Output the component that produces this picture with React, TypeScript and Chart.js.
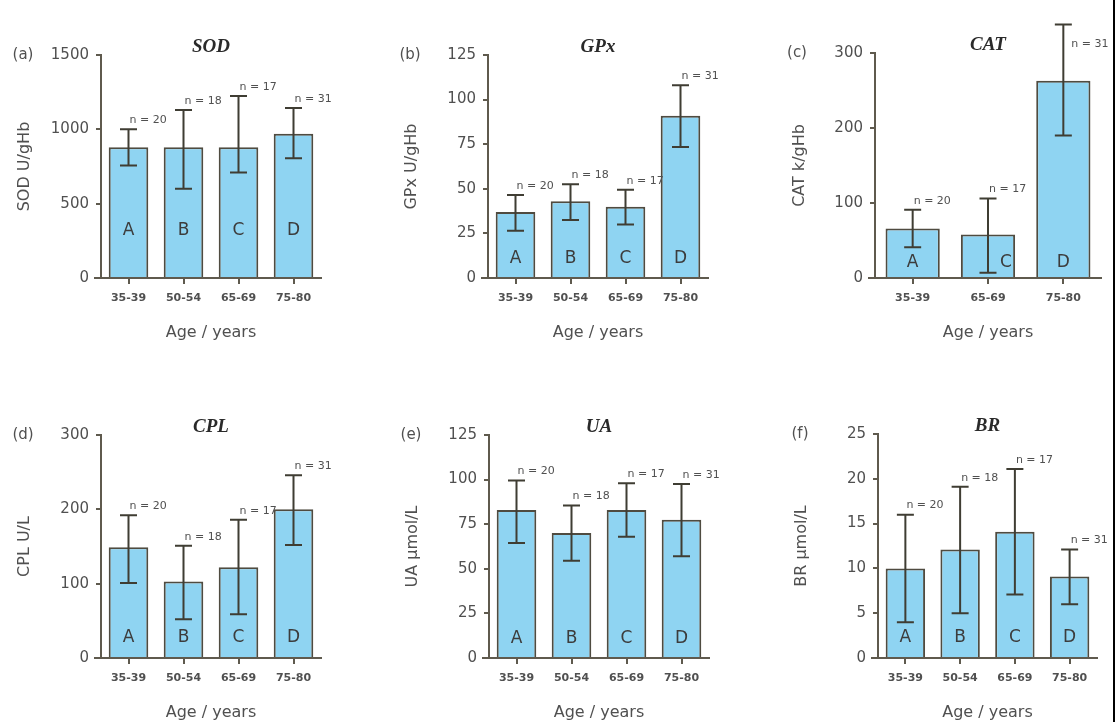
import React, { useEffect, useRef } from 'react';
import { Chart, registerables } from 'chart.js';

Chart.register(...registerables);

// ---------- data ----------
const ageGroups4 = ['35-39', '50-54', '65-69', '75-80'];
const ageGroups3 = ['35-39', '65-69', '75-80'];
const letters4 = ['A', 'B', 'C', 'D'];
const letters3 = ['A', 'C', 'D'];
const n4 = [20, 18, 17, 31];
const n3 = [20, 17, 31];

const sodMean = [880, 880, 880, 970];
const sodLow = [756, 600, 710, 805];
const sodHigh = [1000, 1130, 1225, 1144];

const gpxMean = [37, 43, 40, 91];
const gpxLow = [26.5, 32.5, 30, 73.5];
const gpxHigh = [46.5, 52.5, 49.5, 108];

const catMean = [66, 58, 263];
const catLow = [41, 7, 190];
const catHigh = [91, 106, 338];

const cplMean = [149, 103, 122, 200];
const cplLow = [101, 52, 59, 152];
const cplHigh = [192, 151, 186, 246];

const uaMean = [83, 70, 83, 77.5];
const uaLow = [64.5, 54.5, 68, 57];
const uaHigh = [99.5, 85.5, 98, 97.5];

const brMean = [10, 12.1, 14.1, 9.1];
const brLow = [4, 5, 7.1, 6];
const brHigh = [16, 19.1, 21.1, 12.1];

// ---------- styles ----------
const FILL = '#8fd4f2';
const EDGE = '#4f4b40';
const AXIS = '#5f5a4e';
const ERR = '#3f3d33';
const TXT = '#505050';
const SANS = '"DejaVu Sans", sans-serif';

type Panel = {
  tag: string;
  title: string;
  yTitle: string;
  labels: string[];
  letters: string[];
  n: number[];
  mean: number[];
  low: number[];
  high: number[];
  max: number;
  step: number;
  box: { left: number; top: number; width: number; height: number };
  area: { L: number; R: number; T: number };
  yTitleX: number;
  letterLift: number;
};

const panels: Panel[] = [
  { tag: '(a)', title: 'SOD', yTitle: 'SOD U/gHb', labels: ageGroups4, letters: letters4, n: n4, mean: sodMean, low: sodLow, high: sodHigh, max: 1500, step: 500,
    box: { left: 0, top: 0, width: 370, height: 342 }, area: { L: 101, R: 321, T: 55 }, yTitleX: 25, letterLift: 47 },
  { tag: '(b)', title: 'GPx', yTitle: 'GPx U/gHb', labels: ageGroups4, letters: letters4, n: n4, mean: gpxMean, low: gpxLow, high: gpxHigh, max: 125, step: 25,
    box: { left: 370, top: 0, width: 370, height: 342 }, area: { L: 488, R: 708, T: 55 }, yTitleX: 412, letterLift: 19 },
  { tag: '(c)', title: 'CAT', yTitle: 'CAT k/gHb', labels: ageGroups3, letters: letters3, n: n3, mean: catMean, low: catLow, high: catHigh, max: 300, step: 100,
    box: { left: 740, top: 0, width: 372, height: 342 }, area: { L: 875, R: 1101, T: 53 }, yTitleX: 800, letterLift: 15 },
  { tag: '(d)', title: 'CPL', yTitle: 'CPL U/L', labels: ageGroups4, letters: letters4, n: n4, mean: cplMean, low: cplLow, high: cplHigh, max: 300, step: 100,
    box: { left: 0, top: 380, width: 370, height: 342 }, area: { L: 101, R: 321, T: 435 }, yTitleX: 25, letterLift: 20 },
  { tag: '(e)', title: 'UA', yTitle: 'UA μmol/L', labels: ageGroups4, letters: letters4, n: n4, mean: uaMean, low: uaLow, high: uaHigh, max: 125, step: 25,
    box: { left: 370, top: 380, width: 370, height: 342 }, area: { L: 489, R: 709, T: 435 }, yTitleX: 413, letterLift: 19 },
  { tag: '(f)', title: 'BR', yTitle: 'BR μmol/L', labels: ageGroups4, letters: letters4, n: n4, mean: brMean, low: brLow, high: brHigh, max: 25, step: 5,
    box: { left: 740, top: 380, width: 372, height: 342 }, area: { L: 878, R: 1097, T: 434 }, yTitleX: 802, letterLift: 20 },
];

function PanelChart({ p }: { p: Panel }) {
  const ref = useRef<HTMLCanvasElement>(null);
  useEffect(() => {
    const canvas = ref.current;
    if (!canvas) return;
    const { box, area } = p;
    const pl = p.yTitleX - 9.6 - box.left;

    const annot = {
      id: 'annot' + p.tag,
      afterDatasetsDraw(chart: any) {
        const ctx = chart.ctx as CanvasRenderingContext2D;
        const meta = chart.getDatasetMeta(0);
        const ys = chart.scales.y;
        const ca = chart.chartArea;
        ctx.save();
        // x axis line
        ctx.strokeStyle = AXIS;
        ctx.lineWidth = 2;
        ctx.beginPath();
        ctx.moveTo(ca.left - 7, ca.bottom);
        ctx.lineTo(ca.right + 1, ca.bottom);
        ctx.stroke();

        meta.data.forEach((bar: any, i: number) => {
          const x = bar.x;
          const yl = ys.getPixelForValue(p.low[i]);
          const yh = ys.getPixelForValue(p.high[i]);
          const ly = ca.bottom - p.letterLift;
          const shift = yl > ly - 12 ? 18 : 0;
          // group letter
          ctx.fillStyle = '#3c3c3c';
          ctx.font = `17px ${SANS}`;
          ctx.textAlign = 'center';
          ctx.textBaseline = 'middle';
          ctx.fillText(p.letters[i], x + shift, ly);
          // error bar
          ctx.strokeStyle = ERR;
          ctx.lineWidth = 2;
          ctx.beginPath();
          ctx.moveTo(x, yl);
          ctx.lineTo(x, yh);
          ctx.moveTo(x - 8.5, yl);
          ctx.lineTo(x + 8.5, yl);
          ctx.moveTo(x - 8.5, yh);
          ctx.lineTo(x + 8.5, yh);
          ctx.stroke();
          // n label
          ctx.fillStyle = TXT;
          ctx.font = `11px ${SANS}`;
          ctx.textAlign = 'left';
          ctx.textBaseline = 'middle';
          if (yh < ca.top) {
            ctx.fillText('n = ' + p.n[i], x + 8, yh + 20);
          } else {
            ctx.fillText('n = ' + p.n[i], x + 1, yh - 9);
          }
        });

        // panel title
        ctx.fillStyle = '#2a2a2a';
        ctx.font = `italic bold 19px "Liberation Serif", serif`;
        ctx.textAlign = 'center';
        ctx.textBaseline = 'middle';
        ctx.fillText(p.title, (ca.left + ca.right) / 2, ca.top - 7.5);
        // panel tag
        ctx.fillStyle = TXT;
        ctx.font = `15px ${SANS}`;
        ctx.fillText(p.tag, ca.left - 78, ca.top);
        ctx.restore();
      },
    };

    const chart = new Chart(canvas, {
      type: 'bar',
      data: {
        labels: p.labels,
        datasets: [
          {
            data: p.mean,
            backgroundColor: FILL,
            borderColor: EDGE,
            borderWidth: 2,
            barPercentage: 0.72,
            categoryPercentage: 1,
          },
        ],
      },
      options: {
        responsive: false,
        animation: false,
        devicePixelRatio: 1,
        layout: {
          padding: {
            left: pl,
            right: box.left + box.width - area.R,
            top: area.T - box.top,
            bottom: 0,
          },
        },
        plugins: {
          legend: { display: false },
          tooltip: { enabled: false },
          title: { display: false },
        },
        scales: {
          x: {
            type: 'category',
            offset: true,
            grid: { offset: false, drawOnChartArea: false, drawTicks: true, tickLength: 6, color: AXIS, lineWidth: 2 },
            border: { display: false },
            ticks: { color: TXT, font: { family: SANS, size: 11, weight: 'bold' }, padding: 8, maxRotation: 0 },
            title: { display: true, text: 'Age / years', color: TXT, font: { family: SANS, size: 16 }, padding: 0 },
            afterFit: (s: any) => {
              s.height = 64;
            },
          },
          y: {
            min: 0,
            max: p.max,
            ticks: {
              stepSize: p.step,
              color: TXT,
              font: { family: SANS, size: 15 },
              padding: 7,
              callback: (v: any) => String(v),
            },
            grid: { drawOnChartArea: false, drawTicks: true, tickLength: 5, color: AXIS, lineWidth: 2 },
            border: { display: true, color: AXIS, width: 2 },
            title: { display: true, text: p.yTitle, color: TXT, font: { family: SANS, size: 16 }, padding: 0 },
            afterFit: (s: any) => {
              s.width = area.L - box.left - pl;
            },
          },
        },
      } as any,
      plugins: [annot],
    });
    return () => chart.destroy();
  }, [p]);

  return (
    <canvas
      ref={ref}
      width={p.box.width}
      height={p.box.height}
      style={{ position: 'absolute', left: p.box.left, top: p.box.top, width: p.box.width, height: p.box.height }}
    />
  );
}

export default function App() {
  return (
    <div style={{ position: 'absolute', left: 0, top: 0, width: 1117, height: 722, background: '#ffffff', overflow: 'hidden' }}>
      {panels.map((p) => (
        <PanelChart key={p.tag} p={p} />
      ))}
      <div style={{ position: 'absolute', left: 1113, top: 0, width: 2, height: 722, background: '#000' }} />
    </div>
  );
}
